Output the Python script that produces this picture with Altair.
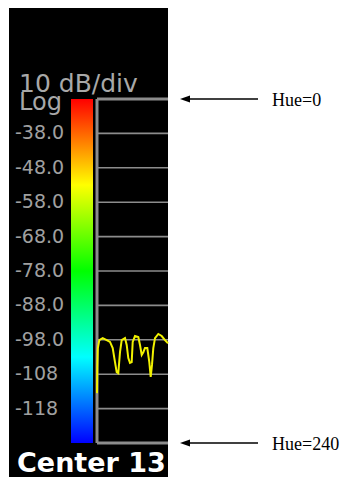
import altair as alt
import pandas as pd

# ---- data ----
grid_levels = [-28, -38, -48, -58, -68, -78, -88, -98, -108, -118, -128]
tick_values = [-38, -48, -58, -68, -78, -88, -98, -108, -118]
tick_labels = ["-38.0", "-48.0", "-58.0", "-68.0", "-78.0", "-88.0", "-98.0", "-108", "-118"]

# trace: frequency position (arbitrary units across the visible grid) and level in dB
trace_x = [0, 0.3, 0.8, 2.3, 5.7, 9.7, 13, 15.7, 18, 19.7, 21.3, 23, 24.7, 28, 29.7,
           31.3, 33, 34.7, 35.7, 38, 41.3, 43, 44.7, 46.3, 48, 50.3, 52.3, 53.7, 55,
           56.3, 58, 61.3, 64.7, 68, 71]
trace_db = [-113.5, -106, -100.5, -98.1, -97.5, -98.1, -98.6, -100.4, -104.5, -107.4,
            -107.7, -101.6, -98.1, -97.5, -99.5, -103.3, -104.7, -104.5, -98.6, -96.9,
            -97.2, -99.5, -102.4, -101.6, -100.4, -100.4, -104.5, -108.8, -105.3,
            -100.4, -97.5, -96.3, -96.9, -98.1, -99.0]

hue_db = [-28, -128]
hue_labels = ["Hue=0", "Hue=240"]
hue_degrees = [0, 60, 120, 180, 240]
hue_colors = ["#ff0000", "#ffff00", "#00ff00", "#00ffff", "#0000ff"]

header_text = ["10 dB/div", "Log"]
footer_text = ["Center 13"]

Y_DOMAIN = [-128, -28]
X_DOMAIN = [0, 71]

yscale = alt.Scale(domain=Y_DOMAIN, nice=False, zero=False)
xscale = alt.Scale(domain=X_DOMAIN, nice=False, zero=False)

one = pd.DataFrame({"k": [0]})
grid_df = pd.DataFrame({"db": grid_levels,
                        "w": [3 if v in (-28, -128) else 1.6 for v in grid_levels]})
tick_df = pd.DataFrame({"db": tick_values, "label": tick_labels})
trace_df = pd.DataFrame({"x": trace_x, "db": trace_db})
hue_df = pd.DataFrame({"db": hue_db, "label": hue_labels})
bar_df = pd.DataFrame({"top": [max(hue_db)], "bottom": [min(hue_db)]})

# black instrument panel
panel = alt.Chart(one).mark_rect(color="black").encode(
    x=alt.value(-88), x2=alt.value(71), y=alt.value(-92), y2=alt.value(380)
)

# hue colour bar (hue 0 at top, 240 at bottom)
stops = [{"offset": h / 240, "color": c} for h, c in zip(hue_degrees, hue_colors)]
colorbar = alt.Chart(bar_df).mark_rect(
    fill={"gradient": "linear", "x1": 0, "y1": 0, "x2": 0, "y2": 1, "stops": stops}
).encode(
    y=alt.Y("top:Q", scale=yscale, axis=None),
    y2="bottom:Q",
    x=alt.value(-26), x2=alt.value(-4),
)

grid = alt.Chart(grid_df).mark_rule(color="#8c8c8c").encode(
    y=alt.Y("db:Q", scale=yscale, axis=None),
    strokeWidth=alt.StrokeWidth("w:Q", scale=None),
)

left_border = alt.Chart(one).mark_rule(color="#8c8c8c", strokeWidth=3).encode(
    x=alt.value(0)
)

trace = alt.Chart(trace_df).mark_line(color="#f2f200", strokeWidth=2).encode(
    x=alt.X("x:Q", scale=xscale, axis=None),
    y=alt.Y("db:Q", scale=yscale, axis=None),
)

ticks = alt.Chart(tick_df).mark_text(
    align="left", baseline="middle", font="DejaVu Sans", fontSize=19, color="#a0a0a0"
).encode(
    y=alt.Y("db:Q", scale=yscale, axis=None),
    x=alt.value(-82),
    text="label:N",
)

hdr1 = alt.Chart(pd.DataFrame({"t": [header_text[0]]})).mark_text(
    align="left", baseline="alphabetic", font="DejaVu Sans", fontSize=25, color="#a8a8a8"
).encode(x=alt.value(-78), y=alt.value(-7), text="t:N")

hdr2 = alt.Chart(pd.DataFrame({"t": [header_text[1]]})).mark_text(
    align="left", baseline="alphabetic", font="DejaVu Sans", fontSize=24, color="#a8a8a8"
).encode(x=alt.value(-78), y=alt.value(11), text="t:N")

footer = alt.Chart(pd.DataFrame({"t": footer_text})).mark_text(
    align="left", baseline="alphabetic", font="DejaVu Sans", fontWeight="bold",
    fontSize=27, color="white"
).encode(x=alt.value(-80), y=alt.value(373), text="t:N")

arrow_line = alt.Chart(hue_df).mark_rule(color="black", strokeWidth=1.5).encode(
    y=alt.Y("db:Q", scale=yscale, axis=None),
    x=alt.value(86), x2=alt.value(161),
)

arrow_head = alt.Chart(hue_df).mark_point(
    shape="M-1,0L1,-0.7L1,0.7Z", filled=True, color="black", size=100, opacity=1
).encode(
    y=alt.Y("db:Q", scale=yscale, axis=None),
    x=alt.value(88),
)

hue_text = alt.Chart(hue_df).mark_text(
    align="left", baseline="middle", font="Liberation Serif", fontSize=18,
    color="black", dy=2
).encode(
    y=alt.Y("db:Q", scale=yscale, axis=None),
    x=alt.value(175),
    text="label:N",
)

chart = alt.layer(
    panel, colorbar, grid, left_border, trace, ticks, hdr1, hdr2, footer,
    arrow_line, arrow_head, hue_text
).properties(
    width=71, height=344, autosize="none",
    padding={"left": 89, "top": 91, "right": 173, "bottom": 34},
).configure_view(strokeWidth=0)

chart.save("out.html", embed_options={"renderer": "svg", "actions": False})
